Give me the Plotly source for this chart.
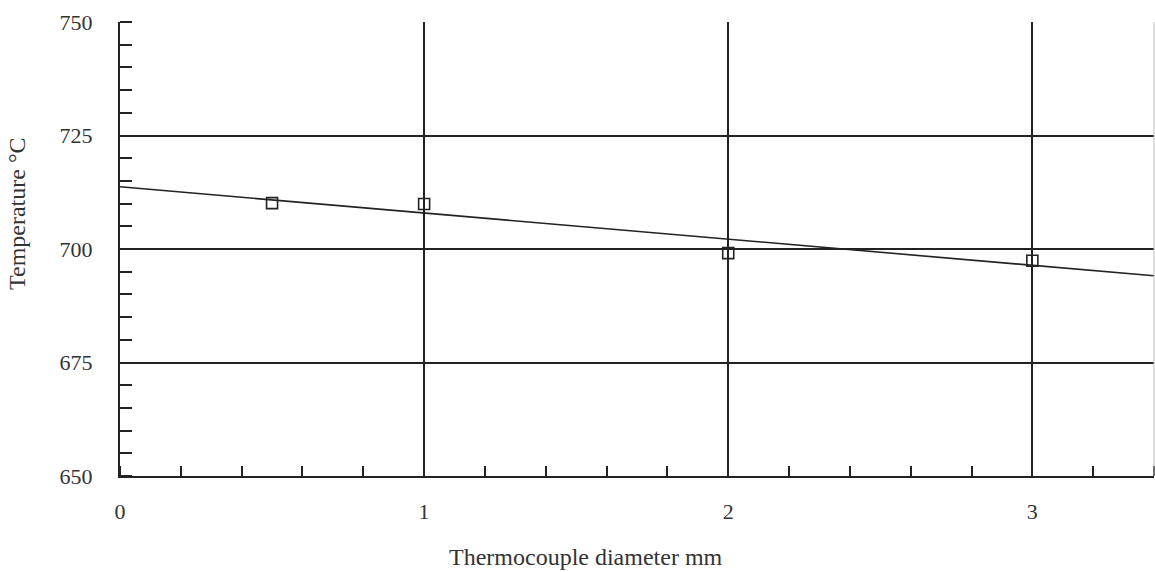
import plotly.graph_objects as go

diameter_mm = [0.5, 1.0, 2.0, 3.0]
temperature_c = [710.1, 709.9, 699.1, 697.4]
fit_x = [0.0, 3.4]
fit_y = [713.7, 694.1]
x_ticks = [0, 1, 2, 3]
y_ticks = [650, 675, 700, 725, 750]

FONT = "Liberation Serif"
INK = "#222222"
TXT = "#333333"

fig = go.Figure()
fig.add_trace(go.Scatter(x=fit_x, y=fit_y, mode="lines",
                         line=dict(color=INK, width=1.6), showlegend=False))
fig.add_trace(go.Scatter(x=diameter_mm, y=temperature_c, mode="markers",
                         marker=dict(symbol="square-open", size=11, color=INK,
                                     line=dict(width=1.6, color=INK)),
                         showlegend=False))

fig.update_layout(
    width=1155, height=572,
    margin=dict(l=120, r=1, t=22, b=96),
    paper_bgcolor="white", plot_bgcolor="white",
    font=dict(family=FONT, size=22, color=TXT),
    xaxis=dict(range=[0, 3.4], tickvals=x_ticks, ticktext=[str(v) for v in x_ticks],
               tickfont=dict(family=FONT, size=22, color=TXT),
               showgrid=True, gridcolor=INK, gridwidth=1.5,
               showline=True, linecolor=INK, linewidth=2,
               ticks="", ticklabelstandoff=15, zeroline=False,
               minor=dict(dtick=0.2, tick0=0, ticks="inside", ticklen=10,
                          tickwidth=2, tickcolor=INK, showgrid=False)),
    yaxis=dict(range=[650, 750], tickvals=y_ticks, ticktext=[str(v) for v in y_ticks],
               tickfont=dict(family=FONT, size=22, color=TXT),
               showgrid=True, gridcolor=INK, gridwidth=1.5,
               showline=True, linecolor=INK, linewidth=2,
               ticks="", ticklabelstandoff=21, zeroline=False,
               minor=dict(dtick=5, tick0=650, ticks="inside", ticklen=12,
                          tickwidth=2, tickcolor=INK, showgrid=False)),
    annotations=[
        dict(text="Thermocouple diameter mm", xref="paper", yref="paper",
             x=(586 - 120) / 1034, y=-(557 - 476) / 454, xanchor="center", yanchor="middle",
             showarrow=False, font=dict(family=FONT, size=24, color=TXT)),
        dict(text="Temperature °C", xref="paper", yref="paper",
             x=-(120 - 17) / 1034, y=(476 - 214) / 454, xanchor="center", yanchor="middle",
             textangle=-90, showarrow=False, font=dict(family=FONT, size=24, color=TXT)),
    ],
)
fig.add_shape(type="line", xref="paper", yref="paper", x0=1, x1=1, y0=0, y1=1,
              line=dict(color="#bbbbbb", width=1))

fig.write_html("out.html")
